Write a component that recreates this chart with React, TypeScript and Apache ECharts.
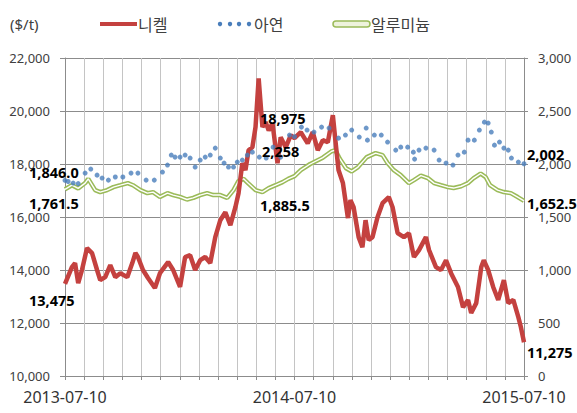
import React, { useEffect, useRef } from 'react';
import * as echarts from 'echarts';

// X axis: days since 2013-07-10 (730 days, 24 monthly gridlines)
const xLabels = ['2013-07-10', '2014-07-10', '2015-07-10'];
const totalDays = 730;
const monthCount = 24;

// 니켈 ($/t, left axis)
const nickelDay = [0, 11, 16, 21, 27, 35, 43, 51, 56, 64, 72, 80, 88, 99, 107, 112, 116, 124, 132, 143, 151, 164, 172, 183, 191, 199, 207, 215, 223, 231, 239, 247, 255, 263, 271, 276, 282, 287, 292, 298, 303, 308, 314, 319, 324, 330, 338, 343, 351, 359, 365, 375, 386, 394, 402, 410, 418, 426, 430, 435, 442, 450, 454, 459, 467, 473, 478, 483, 489, 497, 505, 515, 521, 529, 539, 547, 555, 563, 574, 579, 590, 598, 606, 614, 625, 633, 641, 646, 654, 662, 666, 673, 681, 689, 698, 705, 713, 721, 725, 730];
const nickelValue = [13475, 14110, 14260, 13500, 14000, 14830, 14640, 14000, 13620, 13730, 14180, 13730, 13880, 13730, 14260, 14640, 14490, 14000, 13700, 13320, 13880, 14300, 14000, 13360, 14490, 14560, 14000, 14370, 14490, 14260, 15240, 15880, 16180, 15690, 16370, 16900, 18030, 17770, 18520, 18630, 19390, 21230, 19390, 19580, 19270, 19540, 18030, 19010, 18630, 19080, 18975, 19200, 18780, 19200, 18520, 18900, 18820, 19840, 18900, 17770, 17280, 15960, 16640, 16370, 15240, 14860, 15880, 15130, 15240, 15990, 16520, 16750, 16370, 15390, 15240, 15390, 14490, 14750, 15240, 14750, 14110, 14000, 14370, 13880, 13360, 12600, 12870, 12380, 12750, 14110, 14370, 14000, 13360, 12870, 13620, 12750, 12870, 12220, 11850, 11275];

// 아연 ($/t, right axis)
const zincDay = [0, 5, 13, 21, 32, 41, 51, 59, 69, 80, 92, 105, 116, 129, 142, 155, 163, 169, 175, 183, 191, 199, 207, 215, 223, 231, 239, 247, 253, 260, 268, 274, 282, 290, 298, 309, 320, 331, 343, 357, 365, 376, 385, 396, 408, 420, 435, 446, 456, 468, 479, 481, 492, 503, 513, 526, 534, 545, 554, 556, 563, 574, 587, 595, 606, 617, 625, 635, 641, 651, 659, 667, 673, 678, 683, 691, 698, 705, 710, 721, 730];
const zincValue = [1846, 1835, 1820, 1815, 1914, 1952, 1895, 1867, 1848, 1877, 1877, 1914, 1914, 1848, 1848, 1924, 1990, 2084, 2065, 2065, 2084, 2056, 1971, 2037, 2065, 2084, 2150, 2056, 2009, 1971, 1971, 2018, 2037, 2084, 2112, 2065, 2056, 2159, 2065, 2273, 2258, 2348, 2320, 2301, 2348, 2339, 2244, 2273, 2320, 2254, 2339, 2225, 2273, 2273, 2207, 2131, 2159, 2159, 2112, 2046, 2131, 2150, 2131, 2037, 2009, 1990, 2084, 2112, 2225, 2225, 2320, 2395, 2386, 2301, 2178, 2207, 2150, 2131, 2056, 2018, 2002];

// 알루미늄 ($/t, right axis)
const aluDay = [0, 11, 21, 32, 37, 48, 56, 67, 77, 88, 100, 108, 120, 131, 140, 151, 163, 172, 183, 194, 204, 215, 226, 236, 247, 258, 268, 276, 284, 291, 303, 314, 324, 335, 346, 355, 365, 375, 390, 410, 424, 430, 437, 447, 456, 466, 480, 494, 505, 513, 523, 534, 547, 555, 566, 577, 587, 598, 609, 618, 630, 641, 650, 661, 669, 676, 688, 698, 709, 720, 730];
const aluValue = [1761.5, 1800, 1770, 1820, 1860, 1754, 1735, 1754, 1782, 1800, 1820, 1800, 1754, 1725, 1735, 1690, 1725, 1707, 1690, 1665, 1680, 1707, 1725, 1707, 1707, 1680, 1754, 1840, 1860, 1820, 1754, 1735, 1773, 1800, 1829, 1860, 1885.5, 1942, 2000, 2060, 2120, 2131, 2050, 1960, 1930, 1971, 2065, 2103, 2084, 2009, 1942, 1895, 1820, 1848, 1890, 1867, 1820, 1800, 1782, 1773, 1790, 1820, 1867, 1910, 1877, 1800, 1754, 1735, 1725, 1688, 1652.5];

const leftMin = 10000, leftMax = 22000, leftStep = 2000;
const rightMin = 0, rightMax = 3000, rightStep = 500;

const unitLabel = '($/t)';
const seriesNames = ['니켈', '아연', '알루미늄'];
const annotationTexts = ['13,475', '1,846.0', '1,761.5', '18,975', '2,258', '1,885.5', '2,002', '1,652.5', '11,275'];

const NICKEL = '#c4413f';
const ZINC = '#4a7ebb';
const ALU = '#9bbb59';

const toX = (d: number) => (d * monthCount) / totalDays;
const fmt = (v: number) => Math.round(v).toLocaleString('en-US');

export default function App() {
  const ref = useRef<HTMLDivElement>(null);
  useEffect(() => {
    if (!ref.current) return;
    const chart = echarts.init(ref.current, undefined, { renderer: 'svg' });
    const nickelData = nickelDay.map((d, i) => [toX(d), nickelValue[i]]);
    const zincData = zincDay.map((d, i) => [toX(d), zincValue[i]]);
    const aluData = aluDay.map((d, i) => [toX(d), aluValue[i]]);
    const numFont = '"Noto Sans", sans-serif';
    const krFont = '"Noto Sans CJK KR", sans-serif';
    const annPos = [
      [29, 300], [29, 172], [29, 203], [260, 118], [262, 151], [260, 205], [527, 154], [527, 203], [527, 352],
    ];
    const annotations = annotationTexts.map((t, i) => ({
      type: 'text',
      x: annPos[i][0],
      y: annPos[i][1],
      z: 100,
      style: { text: t, fill: '#000', font: `bold 14.5px ${numFont}`, textVerticalAlign: 'middle' },
    }));
    const legendY = 24;
    const legendG: any[] = [
      { type: 'text', x: 10, y: legendY, style: { text: unitLabel, fill: '#404040', font: `15px ${numFont}`, textVerticalAlign: 'middle' } },
      { type: 'line', shape: { x1: 100, y1: legendY, x2: 137, y2: legendY }, style: { stroke: NICKEL, lineWidth: 4 } },
      { type: 'text', x: 138, y: legendY, style: { text: seriesNames[0], fill: '#404040', font: `16px ${krFont}`, textVerticalAlign: 'middle' } },
      ...[220, 230, 239, 249].map((cx) => ({ type: 'circle', shape: { cx, cy: legendY, r: 2.2 }, style: { fill: ZINC } })),
      { type: 'text', x: 254, y: legendY, style: { text: seriesNames[1], fill: '#404040', font: `16px ${krFont}`, textVerticalAlign: 'middle' } },
      { type: 'rect', shape: { x: 333, y: legendY - 3, width: 37, height: 6, r: 3 }, style: { fill: '#eef3dc', stroke: ALU, lineWidth: 1.5 } },
      { type: 'text', x: 371, y: legendY, style: { text: seriesNames[2], fill: '#404040', font: `16px ${krFont}`, textVerticalAlign: 'middle' } },
    ];
    chart.setOption({
      animation: false,
      backgroundColor: '#ffffff',
      grid: { left: 65, right: 53, top: 58, bottom: 37 },
      xAxis: {
        type: 'value',
        min: 0,
        max: monthCount,
        interval: 1,
        axisLine: { show: true, lineStyle: { color: '#8c8c8c' } },
        axisTick: { show: true, length: 4, lineStyle: { color: '#8c8c8c' } },
        axisLabel: {
          color: '#333',
          fontSize: 16,
          fontFamily: numFont,
          margin: 13,
          showMinLabel: true,
          showMaxLabel: true,
          formatter: (v: number) => (v === 0 ? xLabels[0] : v === 12 ? xLabels[1] : v === 24 ? xLabels[2] : ''),
        },
        splitLine: { show: true, lineStyle: { color: '#c4c4c4', width: 1 } },
      },
      yAxis: [
        {
          type: 'value',
          min: leftMin,
          max: leftMax,
          interval: leftStep,
          axisLine: { show: true, lineStyle: { color: '#8c8c8c' } },
          axisTick: { show: true, length: 5, lineStyle: { color: '#8c8c8c' } },
          axisLabel: { color: '#404040', fontSize: 13, fontFamily: numFont, margin: 15, formatter: fmt },
          splitLine: { show: true, lineStyle: { color: '#8c8c8c', width: 1 } },
        },
        {
          type: 'value',
          position: 'right',
          min: rightMin,
          max: rightMax,
          interval: rightStep,
          axisLine: { show: true, lineStyle: { color: '#8c8c8c' } },
          axisTick: { show: true, length: 4, lineStyle: { color: '#8c8c8c' } },
          axisLabel: { color: '#404040', fontSize: 13, fontFamily: numFont, margin: 14, formatter: fmt },
          splitLine: { show: false },
        },
      ],
      series: [
        {
          name: seriesNames[2],
          type: 'line',
          yAxisIndex: 1,
          data: aluData,
          showSymbol: false,
          lineStyle: { color: ALU, width: 4.5 },
          z: 2,
        },
        {
          name: seriesNames[2] + '-inner',
          type: 'line',
          yAxisIndex: 1,
          data: aluData,
          showSymbol: false,
          lineStyle: { color: '#ffffff', width: 1.4 },
          z: 2,
        },
        {
          name: seriesNames[0],
          type: 'line',
          yAxisIndex: 0,
          data: nickelData,
          showSymbol: false,
          lineStyle: { color: NICKEL, width: 4.5 },
          z: 3,
        },
        {
          name: seriesNames[1],
          type: 'scatter',
          yAxisIndex: 1,
          data: zincData,
          symbolSize: 5,
          itemStyle: { color: ZINC },
          z: 4,
        },
      ],
      graphic: [...legendG, ...annotations],
    });
    return () => chart.dispose();
  }, []);
  return <div ref={ref} style={{ position: 'fixed', left: 0, top: 0, width: 577, height: 413 }} />;
}
